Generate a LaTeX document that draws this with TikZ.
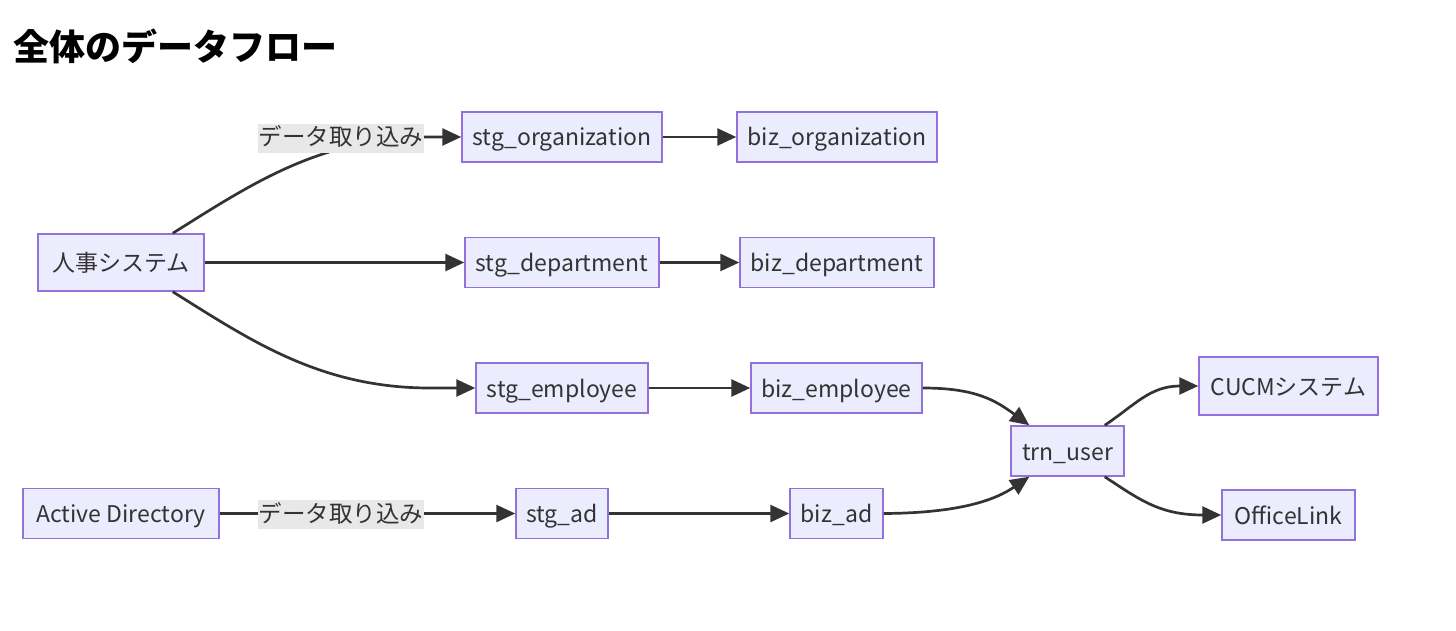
\documentclass[tikz,border=0pt]{standalone}
\usepackage{fontspec}
\setmainfont{Noto Sans CJK JP}
\usetikzlibrary{arrows.meta}
\definecolor{nodefill}{HTML}{ECECFF}
\definecolor{nodeline}{HTML}{9370DB}
\definecolor{edge}{HTML}{333333}
\definecolor{lblbg}{HTML}{E8E8E8}
\tikzset{
  box/.style={draw=nodeline, fill=nodefill, line width=1.5pt, inner sep=0pt,
    minimum height=50pt, text=edge, text height=20pt, text depth=2pt,
    font=\fontsize{23}{27}\selectfont},
  flow/.style={draw=edge, line width=2.7pt, -{Triangle[length=19pt,width=17pt]}},
  lbl/.style={fill=lblbg, inner xsep=1pt, inner ysep=3pt, text height=19pt, text depth=4pt,
    text=edge, font=\fontsize{23.5}{27}\selectfont},
}
\begin{document}
\begin{tikzpicture}[x=1pt,y=-1pt]
\useasboundingbox (0,0) rectangle (1456,631);
\node[anchor=base west, font=\fontsize{36}{42}\selectfont\bfseries] (title) at (10,61) {全体のデータフロー};

\node[box, minimum width=166pt, minimum height=57pt] (hr) at (121,262.5) {人事システム};
\node[box, minimum width=196pt] (ad) at (121,513.5) {Active Directory};
\node[box, minimum width=200pt] (so) at (562,137) {stg\_organization};
\node[box, minimum width=200pt] (bo) at (837,137) {biz\_organization};
\node[box, minimum width=194pt] (sd) at (562,262.5) {stg\_department};
\node[box, minimum width=194pt] (bd) at (837,262.5) {biz\_department};
\node[box, minimum width=172pt] (se) at (562,388) {stg\_employee};
\node[box, minimum width=171pt] (be) at (836.5,388) {biz\_employee};
\node[box, minimum width=92pt] (sa) at (562,513.5) {stg\_ad};
\node[box, minimum width=93pt] (ba) at (836.5,513.5) {biz\_ad};
\node[box, minimum width=113pt] (tu) at (1067.5,451) {trn\_user};
\node[box, minimum width=179pt, minimum height=58pt] (cu) at (1288.5,386) {CUCMシステム};
\node[box, minimum width=133pt] (ol) at (1288.5,515) {OfficeLink};

% edges
\draw[flow] ([xshift=-32pt]hr.north east) .. controls (250,185) and (320,137) .. (430,137) -- (so.west);
\node[lbl] (l1) at (341,138.5) {データ取り込み};
\draw[flow] (hr.east) -- (sd.west);
\draw[flow] ([xshift=-32pt]hr.south east) .. controls (250,340) and (320,388) .. (430,388) -- (se.west);
\draw[flow] (so.east) -- (bo.west);
\draw[flow] (sd.east) -- (bd.west);
\draw[flow] (se.east) -- (be.west);
\draw[flow] (ad.east) -- (sa.west);
\node[lbl] (l2) at (341,514.5) {データ取り込み};
\draw[flow] (sa.east) -- (ba.west);
\draw[flow] (be.east) .. controls (975,388) and (995,400) .. ([xshift=19pt]tu.north west);
\draw[flow] (ba.east) .. controls (960,513) and (995,500) .. ([xshift=19pt]tu.south west);
\draw[flow] ([xshift=-20pt]tu.north east) .. controls (1135,405) and (1150,386) .. (cu.west);
\draw[flow] ([xshift=-20pt]tu.south east) .. controls (1140,500) and (1160,515) .. (ol.west);
\end{tikzpicture}
\end{document}
